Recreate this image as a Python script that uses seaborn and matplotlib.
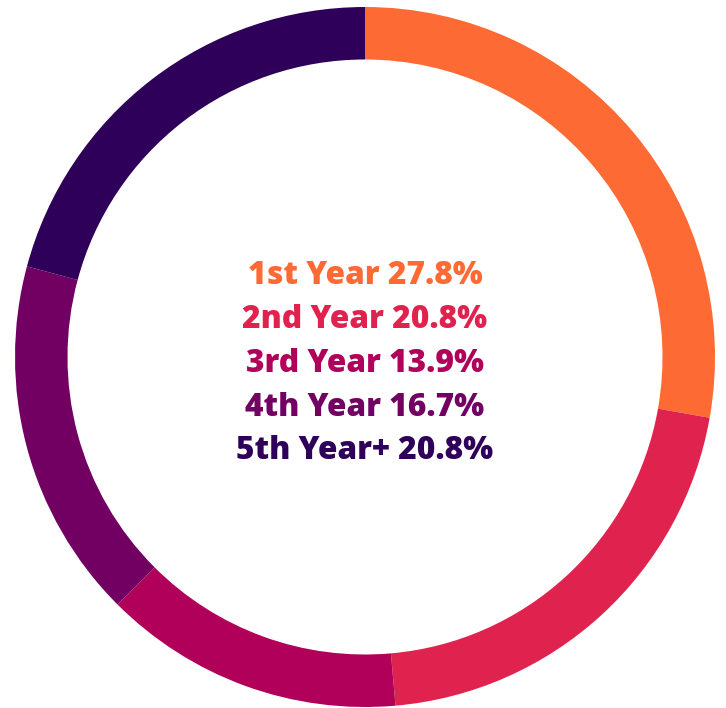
import matplotlib.pyplot as plt
import seaborn as sns

# Dados do gráfico
categorias = ['1st Year', '2nd Year', '3rd Year', '4th Year', '5th Year+']
valores = [20, 15, 10, 12, 15]
percentuais = [27.8, 20.8, 13.9, 16.7, 20.8]
cores = ['#FD6A33', '#E0234E', '#B0005A', '#720062', '#2F0059']

sns.set_style("white")
plt.rcParams['font.family'] = ['Open Sans', 'DejaVu Sans']

fig = plt.figure(figsize=(7.26, 7.08), dpi=100)
ax = fig.add_axes([15 / 726, 1 / 708, 700 / 726, 700 / 708])

palette = sns.color_palette(cores)
ax.pie(valores, colors=palette, startangle=90, counterclock=False, radius=1,
       wedgeprops=dict(width=0.15, edgecolor='none', linewidth=0))
ax.set_xlim(-1, 1)
ax.set_ylim(-1, 1)
ax.set_aspect('equal')
ax.axis('off')

# Rótulos centrais (linha de base em pixels)
linha_y = [284, 328, 372, 416, 459]
for cat, pct, cor, yp in zip(categorias, percentuais, palette, linha_y):
    ax.text(0, (357 - yp) / 350, f'{cat} {pct:.1f}%', color=cor,
            fontsize=22.8, fontweight='heavy', ha='center', va='baseline')

plt.savefig('out.png', dpi=100)
plt.close(fig)
